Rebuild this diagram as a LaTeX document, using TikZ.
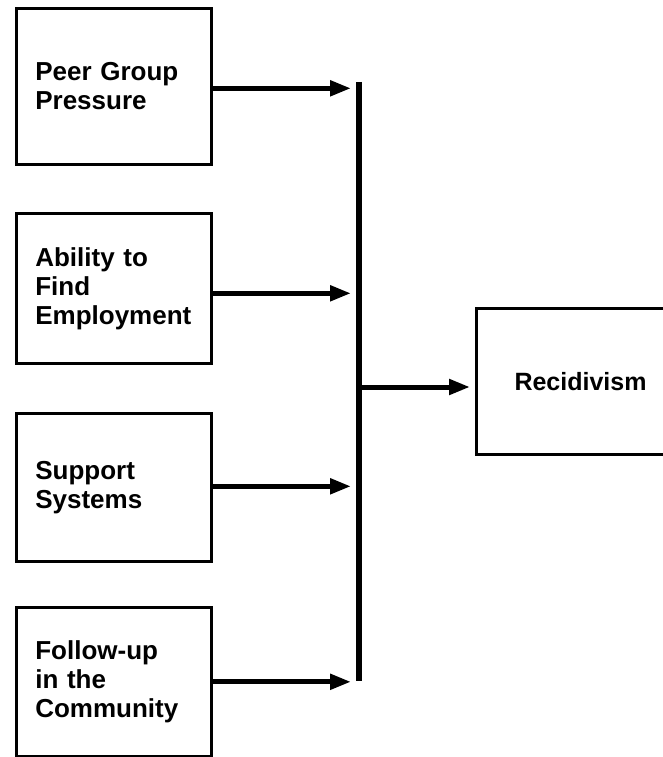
\documentclass[tikz,border=0pt]{standalone}
\usepackage{fontspec}
\setmainfont{Liberation Sans}
\usetikzlibrary{arrows.meta,calc}
\tikzset{
  factor/.style={draw, line width=2.6pt, anchor=north west, minimum width=195pt,
    text width=157pt, inner xsep=19pt, align=left, font=\bfseries\fontsize{26}{29}\selectfont},
  outcome/.style={draw, line width=2.6pt, anchor=north west, minimum width=205pt,
    minimum height=146pt},
  feed/.style={line width=5pt, -{Triangle[length=21pt,width=15pt]}},
  bus/.style={line width=6pt}
}
\begin{document}
\begin{tikzpicture}[x=1pt,y=-1pt]
  \useasboundingbox (0,0) rectangle (663,757);
  \clip (0,0) rectangle (663,757);
  % factor boxes
  \node[factor, minimum height=156pt] (b1) at (15,7) {Peer Group\\Pressure};
  \node[factor, minimum height=150pt] (b2) at (15,212) {Ability to\\Find\\Employment};
  \node[factor, minimum height=148pt] (b3) at (15,412) {Support\\Systems\\[10pt]};
  \node[factor, minimum height=149pt] (b4) at (15,606) {Follow-up\\in the\\Community\\[4pt]};
  % outcome box (runs past the right edge)
  \node[outcome] (r) at (475,307) {};
  \node[font=\bfseries\fontsize{25}{29}\selectfont, anchor=base west] (rt) at (511,390) {Recidivism};
  % collecting bar
  \coordinate (bartop) at (359,82);
  \coordinate (barbot) at (359,681);
  \draw[bus] (bartop) -- (barbot);
  % feeds into the bar
  \draw[feed] ($(b1.east)+(0,2)$) -- ($(b1.east -| bartop)+(-8,2)$);
  \draw[feed] ($(b2.east)+(0,5)$) -- ($(b2.east -| bartop)+(-8,5)$);
  \draw[feed] ($(b3.east)+(0,-1)$) -- ($(b3.east -| bartop)+(-8,-1)$);
  \draw[feed] (b4.east) -- ($(b4.east -| bartop)+(-8,0)$);
  % bar to outcome
  \coordinate (tap) at (359,387);
  \draw[feed] (tap) -- ($(r.west |- tap)+(-5,0)$);
\end{tikzpicture}
\end{document}
